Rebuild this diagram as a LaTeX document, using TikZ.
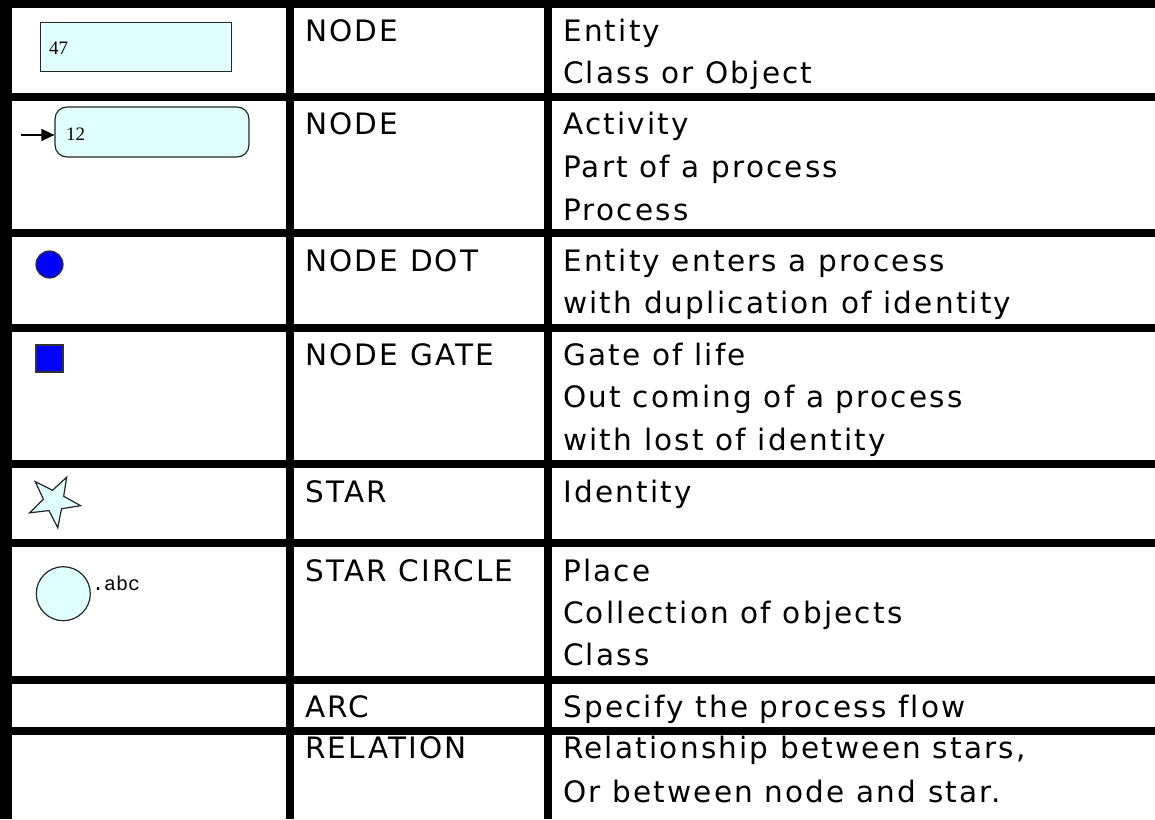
\documentclass[tikz,border=0pt]{standalone}
\usepackage{fontspec}
\setmainfont[LetterSpace=7.5,Ligatures=NoCommon]{DejaVu Sans}
\newfontfamily\iconserif{Liberation Serif}
\newfontfamily\iconmono{Liberation Mono}
\usetikzlibrary{shapes.geometric,arrows.meta}
\definecolor{lightcyan}{HTML}{E0FFFF}
\definecolor{pureblue}{HTML}{0000FF}
\begin{document}
\begin{tikzpicture}[x=1pt,y=-1pt,
  rule/.style={fill=black,draw=none},
  lbl/.style={anchor=base west,inner sep=0pt,font=\fontsize{29.5}{35}\selectfont},
  iconline/.style={draw=black!85,line width=1.2pt},
  entbox/.style={iconline,fill=lightcyan,rectangle,inner sep=0pt},
  actbox/.style={iconline,fill=lightcyan,rectangle,rounded corners=12pt,inner sep=0pt},
  iconnum/.style={anchor=base west,inner sep=0pt,font=\iconserif\fontsize{19}{22}\selectfont},
]
\useasboundingbox (0,0) rectangle (1155,819);
\fill[white] (0,0) rectangle (1155,819);
% grid
\fill[rule] (0,0) rectangle (12,819);
\fill[rule] (0,0) rectangle (1155,7.5);
\foreach \c in {97,233,328,464,543,680,730.5}{
  \fill[rule] (0,\c-4) rectangle (1155,\c+4);
}
\fill[rule] (286,0) rectangle (294,819);
\fill[rule] (544,0) rectangle (552,819);

% icons
\node[entbox,minimum width=191pt,minimum height=49pt] (ent) at (136.2,47.2) {};
\node[iconnum] (entnum) at (49,54.5) {47};

\node[actbox,minimum width=194pt,minimum height=50pt] (act) at (152,132) {};
\node[iconnum] (actnum) at (66,140.5) {12};
\coordinate (arrstart) at (21,135);
\draw[line width=1.5pt,-{Triangle[length=13pt,width=12pt]}] (arrstart) -- (arrstart -| act.west);

\node[circle,draw=black!80,line width=1.2pt,fill=pureblue,minimum size=27pt,inner sep=0pt] (dot) at (49.5,264.5) {};
\node[rectangle,draw=black!80,line width=1.2pt,fill=pureblue,minimum size=27pt,inner sep=0pt] (gate) at (49.5,358.5) {};
\node[star,star points=5,star point ratio=2.5,iconline,fill=lightcyan,minimum size=54pt,inner sep=0pt,shape border rotate=-28] (idstar) at (54,501) {};
\node[circle,iconline,fill=lightcyan,minimum size=54pt,inner sep=0pt] (place) at (63.3,593.7) {};
\node[anchor=base west,inner sep=0pt,font=\iconmono\fontsize{20}{22}\selectfont] (placelbl) at (92,590) {.abc};

% column 2
\node[lbl] (k1) at (305,41.7) {NODE};
\node[lbl] (k2) at (305,134) {NODE};
\node[lbl] (k3) at (305,271.7) {NODE DOT};
\node[lbl] (k4) at (305,365) {NODE GATE};
\node[lbl] (k5) at (305,502) {STAR};
\node[lbl] (k6) at (305,581) {STAR CIRCLE};
\node[lbl] (k7) at (305,717) {ARC};
\node[lbl] (k8) at (305,758) {RELATION};

% column 3
\node[lbl] (d1a) at (563,41.7) {Entity};
\node[lbl] (d1b) at (563,83.5) {Class or Object};
\node[lbl] (d2a) at (563,134) {Activity};
\node[lbl] (d2b) at (563,177) {Part of a process};
\node[lbl] (d2c) at (563,220) {Process};
\node[lbl] (d3a) at (563,271.7) {Entity enters a process};
\node[lbl] (d3b) at (563,313) {with duplication of identity};
\node[lbl] (d4a) at (563,365) {Gate of life};
\node[lbl] (d4b) at (563,407) {Out coming of a process};
\node[lbl] (d4c) at (563,450) {with lost of identity};
\node[lbl] (d5a) at (563,502) {Identity};
\node[lbl] (d6a) at (563,581) {Place};
\node[lbl] (d6b) at (563,623) {Collection of objects};
\node[lbl] (d6c) at (563,665) {Class};
\node[lbl] (d7a) at (563,717) {Specify the process flow};
\node[lbl] (d8a) at (563,758) {Relationship between stars,};
\node[lbl] (d8b) at (563,802) {Or between node and star.};
\end{tikzpicture}
\end{document}
